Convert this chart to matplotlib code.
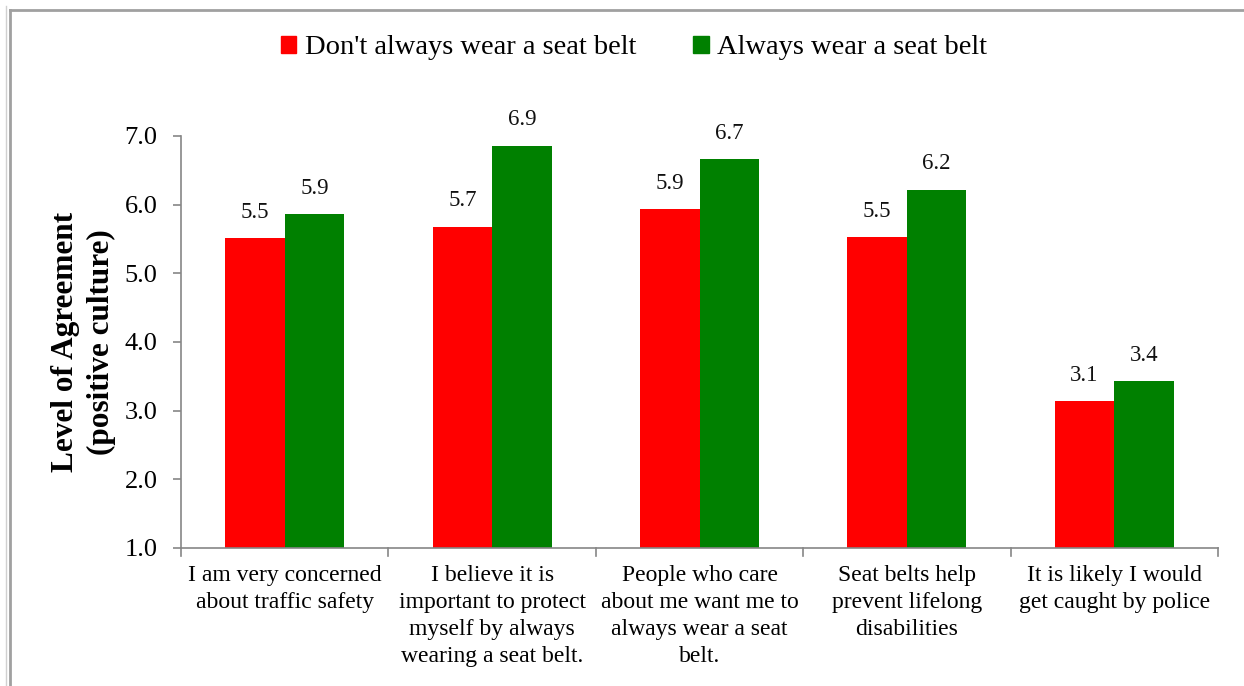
import numpy as np
import matplotlib.pyplot as plt
from matplotlib.patches import Patch
from matplotlib.lines import Line2D

# survey data
kategori = [
    "I am very concerned\nabout traffic safety",
    "I believe it is\nimportant to protect\nmyself by always\nwearing a seat belt.",
    "People who care\nabout me want me to\nalways wear a seat\nbelt.",
    "Seat belts help\nprevent lifelong\ndisabilities",
    "It is likely I would\nget caught by police",
]
tidak_selalu = [5.51, 5.68, 5.93, 5.53, 3.14]
selalu = [5.86, 6.86, 6.66, 6.22, 3.43]
nama_seri = ["Don't always wear a seat belt", "Always wear a seat belt"]
yticks = [1.0, 2.0, 3.0, 4.0, 5.0, 6.0, 7.0]

plt.rcParams['font.family'] = ['Liberation Serif', 'DejaVu Serif']
abu = '#868686'

fig = plt.figure(figsize=(12.44, 6.86), dpi=100)
ax = fig.add_axes([181/1244, 1 - 548/686, (1218 - 181)/1244, (548 - 136)/686])

x = np.arange(len(kategori))
lebar = 0.287
b1 = ax.bar(x - lebar/2, [v - 1 for v in tidak_selalu], lebar, bottom=1, color='#ff0000')
b2 = ax.bar(x + lebar/2, [v - 1 for v in selalu], lebar, bottom=1, color='#008000')

for bars, vals in [(b1, tidak_selalu), (b2, selalu)]:
    for r, v in zip(bars, vals):
        ax.annotate(f"{v:.1f}", (r.get_x() + r.get_width()/2, v), xytext=(0, 11),
                    textcoords='offset points', ha='center', va='bottom', fontsize=16.5, color='#111111')

ax.set_xlim(-0.5, len(kategori) - 0.5)
ax.set_ylim(1, 7)
ax.set_yticks(yticks)
ax.set_yticklabels([f"{t:.1f}" for t in yticks], fontsize=19)
ax.tick_params(axis='y', length=6, width=1.2, color=abu, pad=11)

# category labels between boundary ticks
ax.set_xticks(x)
ax.set_xticklabels(kategori, fontsize=17, linespacing=1.38, va='top')
ax.tick_params(axis='x', length=0, pad=12)
for xb in np.arange(-0.5, len(kategori), 1.0):
    ax.plot([xb, xb], [0, -0.02], transform=ax.get_xaxis_transform(), color=abu,
            lw=1.2, clip_on=False)

for s in ['top', 'right']:
    ax.spines[s].set_visible(False)
for s in ['left', 'bottom']:
    ax.spines[s].set_color(abu)
    ax.spines[s].set_linewidth(1.2)

ax.set_ylabel("Level of Agreement\n(positive culture)", fontsize=22.5, fontweight='bold',
              linespacing=1.3, labelpad=6)

handles = [Patch(color='#ff0000'), Patch(color='#008000')]
fig.legend(handles, nama_seri, loc='center', bbox_to_anchor=(634/1244, 1 - 48/686),
           ncol=2, frameon=False, fontsize=20.5, handlelength=0.55, handleheight=0.55,
           handletextpad=0.3, columnspacing=2.0)

# outer chart border
fig.add_artist(Line2D([10/1244, 10/1244], [0, 1 - 10/686], color='#a0a0a0', lw=2))
fig.add_artist(Line2D([10/1244, 1], [1 - 10/686, 1 - 10/686], color='#a0a0a0', lw=2))
fig.add_artist(Line2D([6/1244, 6/1244], [0, 1 - 6/686], color='#d0d0d0', lw=1))

fig.savefig('out.png', dpi=100)
